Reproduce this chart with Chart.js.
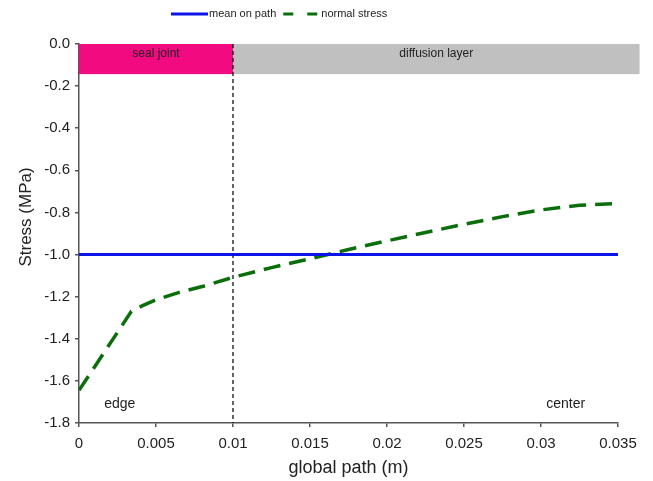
<!DOCTYPE html>
<html>
<head>
<meta charset="utf-8">
<script src="https://cdn.jsdelivr.net/npm/chart.js@4.4.0/dist/chart.umd.min.js"></script>
<style>
  body { margin: 0; background: #fff; }
  #wrap { width: 653px; height: 481px; }
</style>
</head>
<body>
<div id="wrap"><canvas id="plot"></canvas></div>
<script>
// global path (m) and stresses (MPa)
const pathX = [0, 0.0034, 0.0042, 0.005, 0.0065, 0.008, 0.01, 0.0125, 0.015, 0.0175, 0.02, 0.0225, 0.025, 0.0275, 0.03, 0.0325, 0.035];
const normalStress = [-1.645, -1.27, -1.24, -1.215, -1.18, -1.152, -1.108, -1.062, -1.02, -0.976, -0.935, -0.895, -0.856, -0.82, -0.788, -0.766, -0.757];
const meanX = [0, 0.035];
const meanStress = [-1.0, -1.0];

// boundary between seal joint and diffusion layer
const boundaryX = [0.01, 0.01];
const boundaryY = [0.0, -1.8];

// coloured bands at the top
const bandLabels = ['seal joint', 'diffusion layer'];
const bandStart = [0, 0.01];
const bandEnd = [0.01, 0.0364];
const bandColors = ['#f20a80', '#c0c0c0'];
const bandBottom = -0.143;

// side notes
const noteLabels = ['edge', 'center'];
const noteX = [0.00265, 0.0316];
const noteY = [-1.71, -1.71];

const yTitle = 'Stress (MPa)';

const FONT = '"Liberation Sans", Arial, sans-serif';
const toPoints = (xs, ys) => xs.map((x, i) => ({ x: x, y: ys[i] }));

const bandsPlugin = {
    id: 'bands',
    beforeDatasetsDraw(chart) {
        const ctx = chart.ctx;
        const xs = chart.scales.x;
        const ys = chart.scales.y;
        const top = ys.getPixelForValue(0);
        const bottom = ys.getPixelForValue(bandBottom);
        ctx.save();
        ctx.textAlign = 'center';
        ctx.textBaseline = 'middle';
        bandLabels.forEach((label, i) => {
            const left = xs.getPixelForValue(bandStart[i]);
            const right = xs.getPixelForValue(bandEnd[i]);
            ctx.fillStyle = bandColors[i];
            ctx.fillRect(left, top, right - left, bottom - top);
            ctx.fillStyle = '#222';
            ctx.font = '12px ' + FONT;
            ctx.fillText(label, (left + right) / 2, top + 10);
        });
        ctx.fillStyle = '#222';
        ctx.font = '14px ' + FONT;
        noteLabels.forEach((label, i) => {
            ctx.fillText(label, xs.getPixelForValue(noteX[i]), ys.getPixelForValue(noteY[i]));
        });
        ctx.restore();
    }
};

// legend and y title drawn by hand (dashed sample, title sits a bit high)
const legendPlugin = {
    id: 'lineLegend',
    afterDraw(chart) {
        const ctx = chart.ctx;
        let x = 171;
        const y = 14;
        ctx.save();
        ctx.font = '11px ' + FONT;
        ctx.textBaseline = 'middle';
        chart.data.datasets.forEach((ds) => {
            if (!ds.inLegend) return;
            ctx.strokeStyle = ds.borderColor;
            ctx.lineWidth = 3;
            ctx.setLineDash(ds.borderDash ? [10, 14] : []);
            ctx.beginPath();
            ctx.moveTo(x, y);
            ctx.lineTo(x + 37, y);
            ctx.stroke();
            ctx.fillStyle = '#222';
            ctx.fillText(ds.label, x + 38, y);
            x += 38 + ctx.measureText(ds.label).width + 7;
        });

        ctx.translate(26, 217);
        ctx.rotate(-Math.PI / 2);
        ctx.font = '17px ' + FONT;
        ctx.textAlign = 'center';
        ctx.fillStyle = '#222';
        ctx.fillText(yTitle, 0, 0);
        ctx.restore();
    }
};

const ctx = document.getElementById('plot').getContext('2d');
new Chart(ctx, {
    type: 'line',
    data: {
        datasets: [
            {
                label: 'mean on path',
                inLegend: true,
                data: toPoints(meanX, meanStress),
                borderColor: '#0a14e6',
                borderWidth: 3,
                pointRadius: 0,
                fill: false,
            },
            {
                label: 'normal stress',
                inLegend: true,
                data: toPoints(pathX, normalStress),
                borderColor: '#0a6e0a',
                borderWidth: 3.5,
                borderDash: [17, 9],
                pointRadius: 0,
                tension: 0,
                fill: false,
            },
            {
                label: 'boundary',
                inLegend: false,
                data: toPoints(boundaryX, boundaryY),
                borderColor: '#111',
                borderWidth: 1.3,
                borderDash: [4, 3],
                pointRadius: 0,
                fill: false,
            }
        ]
    },
    options: {
        responsive: true,
        maintainAspectRatio: false,
        animation: false,
        layout: { padding: { top: 44, right: 35, left: 0, bottom: 0 } },
        scales: {
            x: {
                type: 'linear',
                min: 0,
                max: 0.035,
                afterFit: (axis) => { axis.height = 58; },
                ticks: {
                    stepSize: 0.005,
                    color: '#222',
                    font: { size: 15, family: FONT },
                    padding: 8,
                    maxRotation: 0,
                    callback: (v) => String(parseFloat(v.toFixed(3))),
                },
                grid: { drawOnChartArea: false, color: '#555', tickLength: 4, lineWidth: 1.5 },
                border: { color: '#555', width: 1.5 },
                title: {
                    display: true,
                    text: 'global path (m)',
                    color: '#222',
                    font: { size: 18, family: FONT },
                    padding: { top: 0, bottom: 2 }
                }
            },
            y: {
                min: -1.8,
                max: 0,
                afterFit: (axis) => { axis.width = 79; },
                ticks: {
                    stepSize: 0.2,
                    color: '#222',
                    font: { size: 15, family: FONT },
                    padding: 5,
                    callback: (v) => (Math.abs(v) < 1e-9 ? 0 : v).toFixed(1),
                },
                grid: { drawOnChartArea: false, color: '#555', tickLength: 4, lineWidth: 1.5 },
                border: { color: '#555', width: 1.5 },
                title: { display: false }
            }
        },
        plugins: {
            legend: { display: false },
            tooltip: { enabled: false }
        }
    },
    plugins: [bandsPlugin, legendPlugin]
});
</script>
</body>
</html>
